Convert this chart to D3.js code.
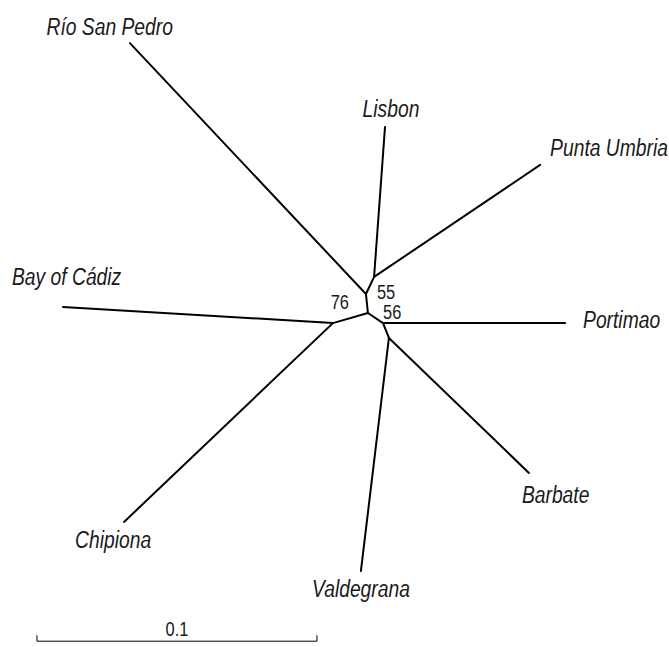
<!DOCTYPE html>
<html>
<head>
<meta charset="utf-8">
<script src="https://cdn.jsdelivr.net/npm/d3@7"></script>
<style>
  body { margin: 0; background: #fff; }
  text { font-family: "Liberation Sans Narrow", "Arial Narrow", "Liberation Sans", Arial, sans-serif; fill: #1a1a1a; }
  .leaf { font-style: italic; font-size: 23.5px; }
  .boot { font-size: 20px; }
  .edge { stroke: #000; stroke-width: 2; fill: none; stroke-linecap: round; }
</style>
</head>
<body>
<div id="chart"></div>
<script>
// node positions in branch-length units (substitutions / site)
const nodeNames = ["A", "B", "C", "D", "E", "F",
  "Río San Pedro", "Lisbon", "Punta Umbria", "Bay of Cádiz",
  "Portimao", "Barbate", "Chipiona", "Valdegrana"]
const nodeX = [0.1336, 0.1307, 0.1314, 0.1368, 0.1389, 0.1189,
  0.0464, 0.1375, 0.1929, 0.0225, 0.2018, 0.1889, 0.0443, 0.1289]
const nodeY = [0.0989, 0.1050, 0.1118, 0.1154, 0.1207, 0.1154,
  0.0154, 0.0454, 0.0589, 0.1096, 0.1154, 0.1689, 0.1864, 0.2039]

// parent -> child
const edges = [
  ["A", "Lisbon"], ["A", "Punta Umbria"], ["A", "B"],
  ["B", "Río San Pedro"], ["B", "C"],
  ["C", "F"], ["F", "Bay of Cádiz"], ["F", "Chipiona"],
  ["C", "D"], ["D", "Portimao"], ["D", "E"],
  ["E", "Barbate"], ["E", "Valdegrana"]
]

const leaves = ["Río San Pedro", "Lisbon", "Punta Umbria", "Bay of Cádiz",
  "Portimao", "Barbate", "Chipiona", "Valdegrana"]

// bootstrap support
const bootNodes = ["B", "D", "C"]
const bootValues = [55, 56, 76]

const scaleBarLength = 0.1
const scaleBarStart = 0.0132
const scaleBarY = 0.229

// label placement (pixels, relative to the tip)
const labelStyle = {
  "Río San Pedro": { dx: 43, dy: -8, anchor: "end" },
  "Lisbon": { dx: 6, dy: -10, anchor: "middle" },
  "Punta Umbria": { dx: 10, dy: -9, anchor: "start" },
  "Bay of Cádiz": { dx: -51, dy: -22, anchor: "start" },
  "Portimao": { dx: 18, dy: 5, anchor: "start" },
  "Barbate": { dx: -7, dy: 30, anchor: "start" },
  "Chipiona": { dx: -49, dy: 26, anchor: "start" },
  "Valdegrana": { dx: 49, dy: 26, anchor: "end" }
}
const bootStyle = {
  "B": { dx: 11, dy: 5, anchor: "start" },
  "D": { dx: 0, dy: -4, anchor: "start" },
  "C": { dx: -19, dy: -4, anchor: "end" }
}

const width = 669, height = 647
const pxPerUnit = 2800
const narrow = 0.82 // the original uses a condensed face

const xScale = d3.scaleLinear().domain([0, width / pxPerUnit]).range([0, width])
const yScale = d3.scaleLinear().domain([0, height / pxPerUnit]).range([0, height])

const pos = {}
nodeNames.forEach((n, i) => pos[n] = { x: xScale(nodeX[i]), y: yScale(nodeY[i]) })

const svg = d3.select("#chart").append("svg")
  .attr("width", width)
  .attr("height", height)

// squeeze text horizontally to mimic a narrow font
function condense(sel) {
  sel.each(function () {
    const w = this.getComputedTextLength()
    d3.select(this)
      .attr("textLength", w * narrow)
      .attr("lengthAdjust", "spacingAndGlyphs")
  })
}

svg.append("g")
  .selectAll("line")
  .data(edges)
  .join("line")
  .attr("class", "edge")
  .attr("x1", d => pos[d[0]].x)
  .attr("y1", d => pos[d[0]].y)
  .attr("x2", d => pos[d[1]].x)
  .attr("y2", d => pos[d[1]].y)

svg.append("g")
  .selectAll("text")
  .data(leaves)
  .join("text")
  .attr("class", "leaf")
  .attr("x", d => pos[d].x + labelStyle[d].dx)
  .attr("y", d => pos[d].y + labelStyle[d].dy)
  .attr("text-anchor", d => labelStyle[d].anchor)
  .text(d => d)
  .call(condense)

svg.append("g")
  .selectAll("text")
  .data(bootNodes)
  .join("text")
  .attr("class", "boot")
  .attr("x", d => pos[d].x + bootStyle[d].dx)
  .attr("y", d => pos[d].y + bootStyle[d].dy)
  .attr("text-anchor", d => bootStyle[d].anchor)
  .text((d, i) => bootValues[i])
  .call(condense)

// scale bar
const barScale = d3.scaleLinear()
  .domain([0, scaleBarLength])
  .range([xScale(scaleBarStart), xScale(scaleBarStart + scaleBarLength)])

const bar = svg.append("g")
  .attr("transform", `translate(0, ${yScale(scaleBarY)})`)
bar.append("line")
  .attr("x1", barScale(0)).attr("x2", barScale(scaleBarLength))
  .attr("stroke", "#000").attr("stroke-width", 1)
bar.selectAll(".tick")
  .data([0, scaleBarLength])
  .join("line")
  .attr("class", "tick")
  .attr("x1", d => barScale(d)).attr("x2", d => barScale(d))
  .attr("y1", -6).attr("y2", 0)
  .attr("stroke", "#000").attr("stroke-width", 1)
bar.append("text")
  .attr("class", "boot")
  .attr("x", barScale(scaleBarLength / 2))
  .attr("y", -5)
  .attr("text-anchor", "middle")
  .text(scaleBarLength)
  .call(condense)
</script>
</body>
</html>
